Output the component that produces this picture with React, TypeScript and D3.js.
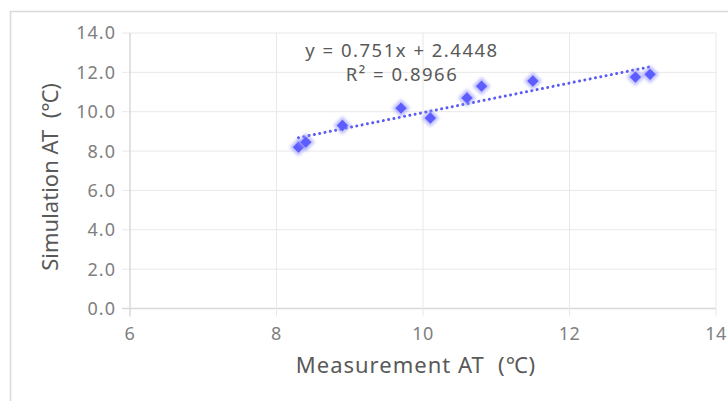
import React from "react";
import * as d3 from "d3";

const measured = [8.3, 8.4, 8.9, 9.7, 10.1, 10.6, 10.8, 11.5, 12.9, 13.1];
const simulated = [8.2, 8.45, 9.3, 10.18, 9.68, 10.7, 11.3, 11.56, 11.76, 11.9];
const xTicks = [6, 8, 10, 12, 14];
const yTicks = [0, 2, 4, 6, 8, 10, 12, 14];
const slope = 0.751;
const intercept = 2.4448;
const eqText = "y = 0.751x + 2.4448";
const r2Value = "0.8966";
const xTitle = "Measurement AT\u00a0\u00a0(℃)";
const yTitle = "Simulation AT\u00a0\u00a0(℃)";

const W = 728;
const H = 401;
const L = 130, R = 716, T = 33, B = 308.5;

export default function App() {
  const x = d3.scaleLinear().domain([6, 14]).range([L, R]);
  const y = d3.scaleLinear().domain([0, 14]).range([B, T]);
  const xMin = d3.min(measured) as number;
  const xMax = d3.max(measured) as number;
  const trend = d3.line<number>().x((d) => x(d)).y((d) => y(slope * d + intercept));
  const font = "'Noto Sans', 'Open Sans', sans-serif";
  const diamond = d3.symbol().type(d3.symbolSquare);
  return (
    <svg width={W} height={H} style={{ position: "fixed", left: 0, top: 0, display: "block", background: "#fff" }} fontFamily={font}>
      <defs>
        <filter id="glow" x="-50%" y="-50%" width="200%" height="200%">
          <feGaussianBlur stdDeviation="1.6" />
        </filter>
      </defs>
      <rect x={10.5} y={11.5} width={740} height={420} fill="#fff" stroke="#d9d9d9" strokeWidth={1.5} />
      {yTicks.map((t) => (
        <g key={"y" + t}>
          <line x1={L - 8} x2={R} y1={y(t)} y2={y(t)} stroke={t === 0 ? "#d9d9d9" : "#e8e8e8"} strokeWidth={t === 0 ? 1.5 : 1} />
          <text x={116} y={y(t)} dy="0.36em" textAnchor="end" fontSize={18} letterSpacing={1} fill="#808080">{t.toFixed(1)}</text>
        </g>
      ))}
      {xTicks.map((t) => (
        <g key={"x" + t}>
          <line x1={x(t)} x2={x(t)} y1={T} y2={B + 8} stroke={t === 6 ? "#d9d9d9" : "#e8e8e8"} strokeWidth={t === 6 ? 1.5 : 1} />
          <text x={x(t)} y={340} textAnchor="middle" fontSize={18} letterSpacing={0.5} fill="#808080">{t}</text>
        </g>
      ))}
      <path d={trend([xMin, xMax]) || ""} fill="none" stroke="#5b5bf5" strokeWidth={3} strokeLinecap="round" strokeDasharray="0.01 5.4" />
      {measured.map((m, i) => (
        <g key={"p" + i} transform={`translate(${x(m)},${y(simulated[i])}) rotate(45)`}>
          <path d={diamond.size(160)() || ""} fill="#8f8fff" opacity={0.6} filter="url(#glow)" />
          <path d={diamond.size(64)() || ""} fill="#5c5cff" />
        </g>
      ))}
      <text x={402} y={57} textAnchor="middle" fontSize={18.5} letterSpacing={1.5} fill="#595959">{eqText}</text>
      <text x={402} y={81} textAnchor="middle" fontSize={18.5} letterSpacing={1.5} fill="#595959">R² = {r2Value}</text>
      <text x={416} y={373} textAnchor="middle" fontSize={22} letterSpacing={1} fill="#595959">{xTitle}</text>
      <text transform={`translate(58,177) rotate(-90)`} textAnchor="middle" fontSize={22} fill="#595959">{yTitle}</text>
    </svg>
  );
}
